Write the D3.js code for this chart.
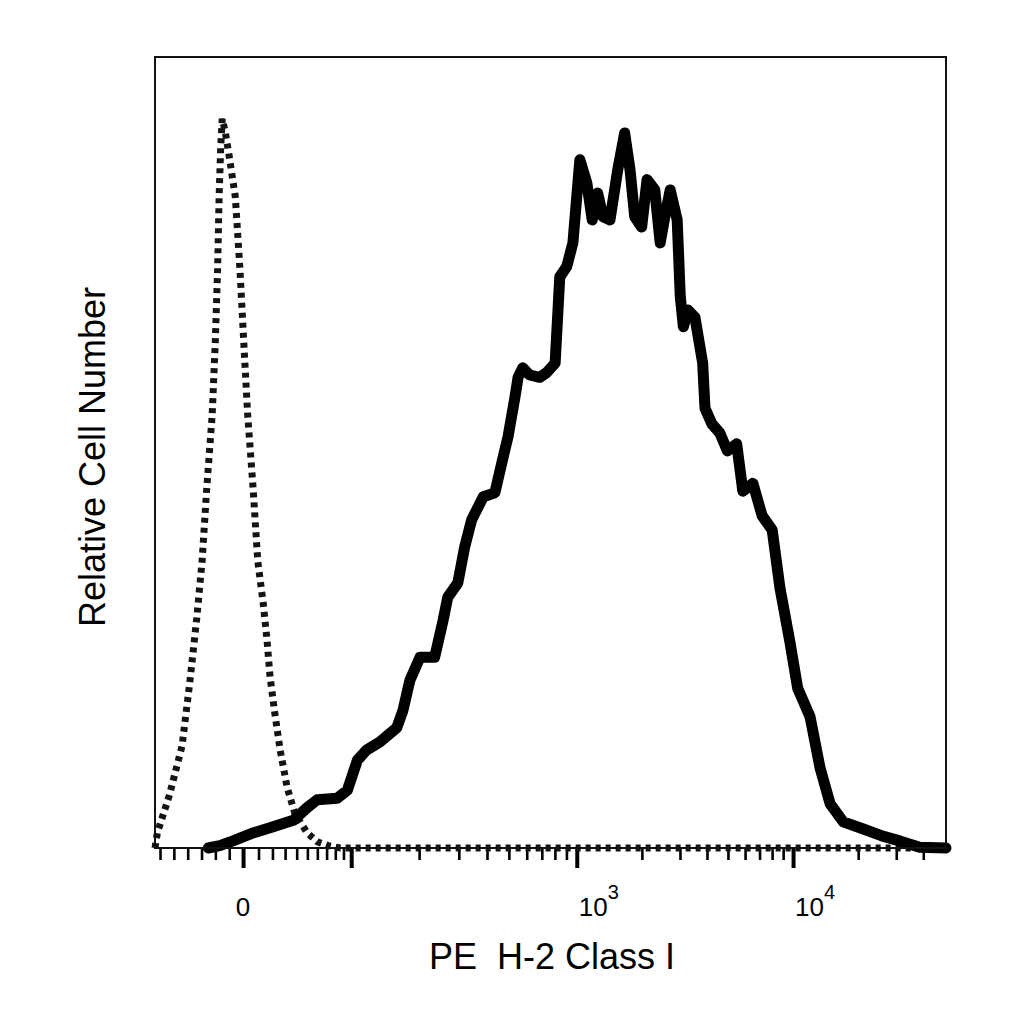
<!DOCTYPE html>
<html>
<head>
<meta charset="utf-8">
<script src="https://cdn.jsdelivr.net/npm/d3@7"></script>
<style>
  html, body { margin: 0; padding: 0; background: #fff; }
  svg text { font-family: "Liberation Sans", Arial, Helvetica, sans-serif; fill: #000; }
</style>
</head>
<body>
<div id="chart"></div>
<script>
// histogram channels (0-1024 display channels) and relative counts
const isoChannels = [0, 3, 19, 35, 45, 54, 61, 67, 74, 78, 81, 83, 85, 87, 91, 96, 104, 110, 115, 120,
    127, 133, 140, 145, 149, 155, 162, 171, 181, 197, 210, 224, 240, 1024];
const isoCounts = [0, 1.9, 6.8, 12.9, 20.9, 29.0, 36.3, 45.5, 54.7, 63.8, 73.1, 82.3, 88.5, 92.2, 90.5, 87.5, 82.3, 73.1, 63.8, 54.7,
    45.5, 36.3, 31.0, 26.3, 21.6, 17.1, 12.4, 7.7, 4.4, 1.9, 0.8, 0.3, 0, 0];

const stainChannels = [69, 84, 101, 127, 153, 179, 197, 210, 236, 249,
    262, 274, 291, 313, 321, 330, 343, 362, 373, 379,
    392, 401, 410, 425, 440, 449, 457, 466, 470, 476,
    485, 498, 507, 518, 524, 533, 541, 550, 559, 566,
    573, 580, 589, 599, 608, 615, 621, 630, 637, 647,
    654, 660, 667, 676, 680, 684, 690, 699, 709, 712,
    721, 731, 741, 753, 761, 774, 786, 799, 809, 822,
    832, 848, 861, 874, 891, 917, 942, 964, 990, 1024];
const stainCounts = [0, 0.3, 0.9, 1.9, 2.7, 3.5, 5.1, 6.1, 6.3, 7.3,
    11.1, 12.4, 13.4, 15.2, 17.4, 21.2, 24.1, 24.1, 28.8, 31.7,
    33.5, 38.1, 41.5, 44.4, 44.9, 48.7, 52.0, 57.0, 59.5, 60.7,
    59.8, 59.5, 60.1, 61.3, 72.2, 73.5, 76.5, 87.0, 84.1, 79.4,
    82.8, 79.8, 79.4, 85.7, 90.4, 85.7, 79.8, 78.5, 84.5, 83.2,
    76.5, 79.8, 83.2, 79.4, 69.7, 65.9, 68.0, 67.1, 61.3, 55.6,
    53.6, 52.5, 50.2, 51.1, 45.1, 46.1, 42.0, 40.2, 32.9, 26.0,
    20.2, 16.6, 10.1, 5.6, 3.3, 2.4, 1.5, 0.9, 0.1, 0];

// axis ticks (fluorescence values)
const majorTicks = [0, 100, 1000, 10000];
const minorTicks = [-60, -50, -40, -30, -20, -10, 10, 20, 30, 40, 50, 60, 70, 80, 90,
    200, 300, 400, 500, 600, 700, 800, 900,
    2000, 3000, 4000, 5000, 6000, 7000, 8000, 9000, 20000, 30000, 40000];
const labelValues = [0, 1000, 10000];
const labelBases = ["0", "10", "10"];
const labelExps = ["", "3", "4"];

const width = 1024, height = 1024;
const margin = { top: 57, right: 78, bottom: 176, left: 155 };

const svg = d3.select("#chart")
    .append("svg")
    .attr("width", width)
    .attr("height", height);

const x = d3.scaleLinear()
    .domain([0, 1024])
    .range([margin.left, width - margin.right]);

const y = d3.scaleLinear()
    .domain([0, 100])
    .range([height - margin.bottom, margin.top]);

// biexponential-like display transform: value -> channel
const negPart = d3.scaleLinear().domain([-60, 0]).range([6.5, 114]);
const linPart = d3.scaleSymlog().constant(85).domain([0, 100]).range([114, 254]);
const logPart = d3.scaleLog().domain([100, 1000, 10000, 100000]).range([254, 546, 826, 1106]);
function toChannel(v) {
    if (v < 0) return negPart(v);
    if (v < 100) return linPart(v);
    return logPart(v);
}

const line = d3.line()
    .x(d => x(d[0]))
    .y(d => y(d[1]));

const isoData = isoChannels.map((c, i) => [c, isoCounts[i]]);
const stainData = stainChannels.map((c, i) => [c, stainCounts[i]]);

// ticks
const y0 = height - margin.bottom;
const minorAxis = svg.append("g")
    .attr("transform", `translate(0,${y0})`)
    .call(d3.axisBottom(x).tickValues(minorTicks.map(toChannel)).tickSize(12).tickSizeOuter(0).tickFormat(""));
minorAxis.select(".domain").remove();
minorAxis.selectAll(".tick line").attr("stroke", "#000").attr("stroke-width", 2.6);

const majorAxis = svg.append("g")
    .attr("transform", `translate(0,${y0})`)
    .call(d3.axisBottom(x).tickValues(majorTicks.map(toChannel)).tickSize(20).tickSizeOuter(0).tickFormat(""));
majorAxis.select(".domain").remove();
majorAxis.selectAll(".tick line").attr("stroke", "#000").attr("stroke-width", 4);

// tick labels
labelValues.forEach((v, i) => {
    const t = svg.append("text")
        .attr("y", 916)
        .style("font-size", "26px");
    if (labelExps[i] === "") {
        t.attr("x", x(toChannel(v))).attr("text-anchor", "middle").text(labelBases[i]);
    } else {
        t.attr("x", x(toChannel(v)) + 2).attr("text-anchor", "start");
        t.append("tspan").text(labelBases[i]);
        t.append("tspan").attr("dy", -17).style("font-size", "20px").text(labelExps[i]);
    }
});

// histograms
svg.append("path")
    .datum(isoData)
    .attr("fill", "none")
    .attr("stroke", "#141414")
    .attr("stroke-width", 7)
    .attr("stroke-dasharray", "5,5")
    .attr("d", line);

svg.append("path")
    .datum(stainData)
    .attr("fill", "none")
    .attr("stroke", "#000")
    .attr("stroke-width", 11)
    .attr("stroke-linejoin", "round")
    .attr("stroke-linecap", "round")
    .attr("d", line);

// frame
svg.append("rect")
    .attr("x", margin.left)
    .attr("y", margin.top)
    .attr("width", width - margin.left - margin.right)
    .attr("height", height - margin.top - margin.bottom)
    .attr("fill", "none")
    .attr("stroke", "#111")
    .attr("stroke-width", 2);

// axis titles
svg.append("text")
    .attr("x", 552)
    .attr("y", 969)
    .attr("text-anchor", "middle")
    .style("font-size", "36px")
    .style("white-space", "pre")
    .text("PE  H-2 Class I");

svg.append("text")
    .attr("transform", "translate(105,457) rotate(-90)")
    .attr("text-anchor", "middle")
    .style("font-size", "36px")
    .text("Relative Cell Number");
</script>
</body>
</html>
